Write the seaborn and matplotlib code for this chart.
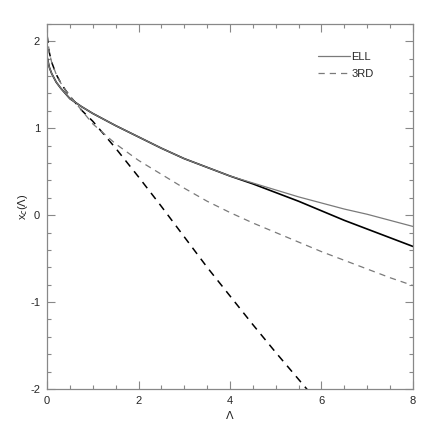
import numpy as np
import pandas as pd
import seaborn as sns
import matplotlib.pyplot as plt
from matplotlib.ticker import MultipleLocator

sns.set_style("ticks")
plt.rcParams['font.family'] = ['Liberation Sans', 'DejaVu Sans']
plt.rcParams['axes.unicode_minus'] = False

# values
lam = [0, 0.05, 0.1, 0.2, 0.3, 0.4, 0.5, 0.75, 1.0, 1.5, 2.0, 2.5, 3.0, 3.5,
       4.0, 4.5, 5.0, 5.5, 6.0, 6.5, 7.0, 7.5, 8.0]
exact = [1.82, 1.70, 1.63, 1.53, 1.46, 1.40, 1.34, 1.25, 1.17, 1.03, 0.90,
         0.77, 0.65, 0.55, 0.45, 0.36, 0.26, 0.16, 0.05, -0.06, -0.16, -0.26, -0.36]
ell = [1.82, 1.70, 1.63, 1.53, 1.46, 1.40, 1.34, 1.25, 1.17, 1.03, 0.90,
       0.77, 0.65, 0.55, 0.45, 0.37, 0.29, 0.21, 0.14, 0.07, 0.01, -0.06, -0.13]
third = [2.07, 1.87, 1.76, 1.62, 1.52, 1.44, 1.37, 1.21, 1.05, 0.82, 0.63,
         0.47, 0.31, 0.16, 0.03, -0.09, -0.20, -0.31, -0.42, -0.52, -0.62, -0.72, -0.81]
lam_lin = [0, 0.05, 0.1, 0.2, 0.3, 0.4, 0.5, 0.75, 1.0, 1.5, 2.0, 2.5, 3.0,
           3.5, 4.0, 4.5, 5.0, 5.5, 6.0]
linear = [2.07, 1.87, 1.76, 1.62, 1.52, 1.44, 1.37, 1.21, 1.08, 0.77, 0.44,
          0.10, -0.25, -0.60, -0.93, -1.26, -1.58, -1.89, -2.20]

fig = plt.figure(figsize=(4.36, 4.36), dpi=100)
ax = fig.add_axes([0.108, 0.108, 0.839, 0.837])

sns.lineplot(x=lam, y=exact, ax=ax, color='black', lw=1.2)
sns.lineplot(x=lam_lin, y=linear, ax=ax, color='black', lw=1.1,
             linestyle=(0, (5, 4)))
sns.lineplot(x=lam, y=ell, ax=ax, color='#7a7a7a', lw=0.9, label='ELL')
sns.lineplot(x=lam, y=third, ax=ax, color='#7a7a7a', lw=0.9,
             linestyle=(0, (5, 4)), label='3RD')

ax.set_xlim(0, 8)
ax.set_ylim(-2, 2.2)
ax.xaxis.set_major_locator(MultipleLocator(2))
ax.xaxis.set_minor_locator(MultipleLocator(0.5))
ax.yaxis.set_major_locator(MultipleLocator(1))
ax.yaxis.set_minor_locator(MultipleLocator(0.2))
ax.tick_params(which='both', direction='in', top=True, right=True,
               color='#888888', labelsize=8, width=0.8)
ax.tick_params(which='major', length=6, pad=5)
ax.tick_params(which='minor', length=3)
for s in ax.spines.values():
    s.set_color('#888888')
    s.set_linewidth(0.9)

ax.set_xlabel(r'$\Lambda$', fontsize=8, labelpad=2)
ax.set_ylabel(r'x$_c$($\Lambda$)', fontsize=8, labelpad=0)

ax.legend(frameon=False, loc='upper right', bbox_to_anchor=(0.92, 0.95),
          fontsize=8, handlelength=2.9, handletextpad=0.1, labelspacing=0.6)

plt.savefig('out.png', dpi=100)
plt.close()
